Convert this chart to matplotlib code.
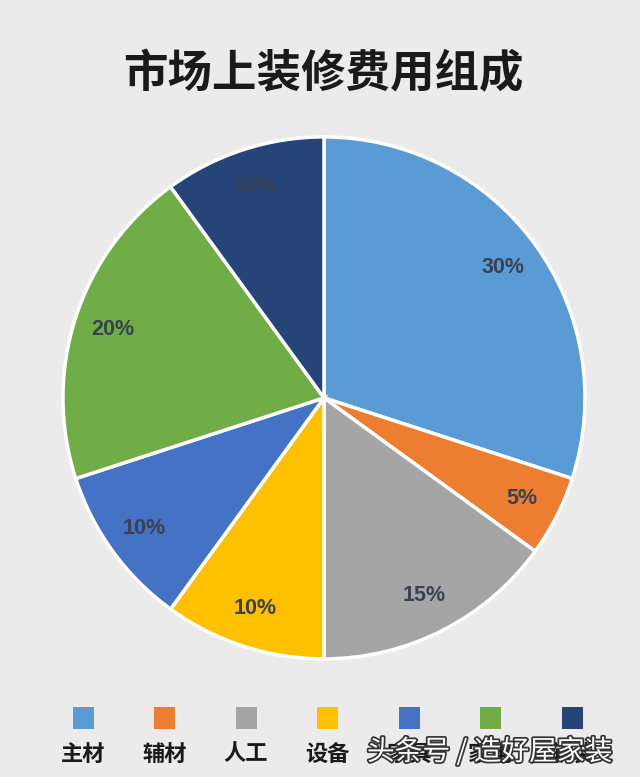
import matplotlib
matplotlib.use("Agg")
import matplotlib.pyplot as plt
from matplotlib.patches import Rectangle
import matplotlib.patheffects as pe

plt.rcParams['font.family'] = ['Noto Sans CJK SC', 'DejaVu Sans']

title = "市场上装修费用组成"
categories = ["主材", "辅材", "人工", "设备", "家具", "家电", "软装"]
values = [30, 5, 15, 10, 10, 20, 10]
colors = ["#5B9BD5", "#ED7D31", "#A5A5A5", "#FFC000", "#4472C4", "#70AD47", "#264478"]
watermark = "头条号 / 造好屋家装"

bg = "#EBEBEB"
fig = plt.figure(figsize=(6.4, 7.77), dpi=100, facecolor=bg)

ax = fig.add_axes([0.0984, 0.1519, 0.8156, 0.672])
ax.set_facecolor(bg)
wedges, texts, autotexts = ax.pie(
    values, colors=colors, startangle=90, counterclock=False,
    autopct=lambda p: f"{p:.0f}%", pctdistance=0.85,
    wedgeprops=dict(edgecolor="white", linewidth=2.5),
    textprops=dict(color="#3A4150", fontsize=15.5, fontweight="bold",
                   family=["Liberation Sans", "DejaVu Sans"]))
ax.set_xlim(-1.0, 1.0)
ax.set_ylim(-1.0, 1.0)
ax.set_aspect("equal")

fig.text(0.505, 1 - 74 / 777, title, ha="center", va="center", fontsize=32,
         fontweight="bold", color="#1a1a1a")

# legend (markers above labels)
x0, step = 83 / 640, 81.5 / 640
for i, (c, lab) in enumerate(zip(colors, categories)):
    xc = x0 + i * step
    w, h = 21 / 640, 22 / 777
    fig.patches.append(Rectangle((xc - w / 2, 1 - 729 / 777), w, h,
                                 transform=fig.transFigure, facecolor=c,
                                 edgecolor="none"))
    fig.text(xc, 1 - 754 / 777, lab, ha="center", va="center", fontsize=16,
             fontweight="bold", color="#1a1a1a")

fig.text(0.765, 1 - 752 / 777, watermark, ha="center", va="center",
         fontsize=20, color="white",
         path_effects=[pe.withStroke(linewidth=2.5, foreground="#333333")])

fig.savefig("out.png", dpi=100, facecolor=bg)
